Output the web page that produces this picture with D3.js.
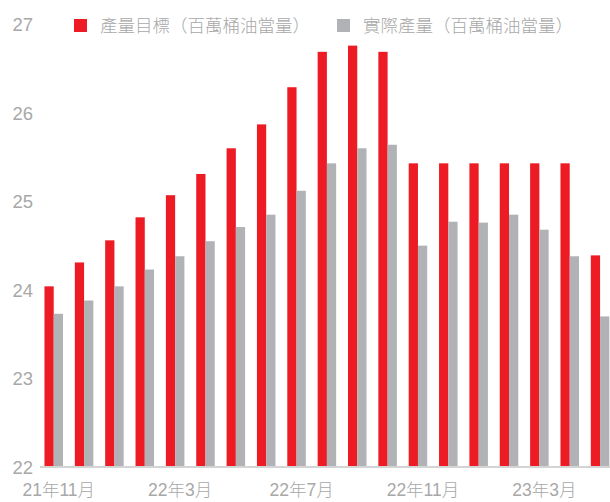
<!DOCTYPE html>
<html>
<head>
<meta charset="utf-8">
<script src="https://cdn.jsdelivr.net/npm/d3@7"></script>
<style>
  html, body { margin: 0; padding: 0; background: #fff; }
  svg { display: block; }
  text { font-family: "Liberation Sans", Arial, "Noto Sans CJK TC", sans-serif; }
</style>
</head>
<body>
<svg id="chart" width="610" height="502"></svg>
<script>
const months = ["21年11月","21年12月","22年1月","22年2月","22年3月","22年4月","22年5月","22年6月","22年7月","22年8月","22年9月","22年10月","22年11月","22年12月","23年1月","23年2月","23年3月","23年4月","23年5月"];
const target = [24.03, 24.30, 24.55, 24.81, 25.06, 25.30, 25.59, 25.86, 26.28, 26.68, 26.75, 26.68, 25.42, 25.42, 25.42, 25.42, 25.42, 25.42, 24.38];
const actual = [23.72, 23.87, 24.03, 24.22, 24.37, 24.54, 24.70, 24.84, 25.11, 25.42, 25.59, 25.63, 24.49, 24.76, 24.75, 24.84, 24.67, 24.37, 23.69];
const seriesNames = ["產量目標（百萬桶油當量）", "實際產量（百萬桶油當量）"];
const yTicks = [22, 23, 24, 25, 26, 27];
const xTickLabels = ["21年11月", "22年3月", "22年7月", "22年11月", "23年3月"];

const colors = ["#ED1C24", "#B1B2B6"];
const textColor = "#A8A8A8";

const svg = d3.select("#chart");

const y = d3.scaleLinear().domain([22, 27]).range([466, 23.5]);
const x = d3.scaleBand().domain(months).range([38.4, 615.4]).paddingInner(0.39).paddingOuter(0.2);
const xs = d3.scaleBand().domain([0, 1]).range([0, x.bandwidth()]);

const data = months.map((m, i) => ({ m, vals: [target[i], actual[i]] }));

const g = svg.append("g");
const groups = g.selectAll("g.grp").data(data).join("g")
  .attr("transform", d => `translate(${x(d.m)},0)`);
groups.selectAll("rect").data(d => d.vals.map((v, k) => ({ v, k }))).join("rect")
  .attr("x", d => xs(d.k))
  .attr("width", xs.bandwidth())
  .attr("y", d => y(d.v))
  .attr("height", d => y(22) - y(d.v))
  .attr("fill", d => colors[d.k]);

// baseline
svg.append("line")
  .attr("x1", 40).attr("x2", 610)
  .attr("y1", y(22) + 1).attr("y2", y(22) + 1)
  .attr("stroke", "#D4D4D4").attr("stroke-width", 2);

// y axis labels
const yAxis = d3.axisLeft(y).tickValues(yTicks).tickSize(0).tickPadding(0).tickFormat(d3.format("d"));
const yg = svg.append("g").attr("transform", "translate(33,1.5)").call(yAxis);
yg.select(".domain").remove();
yg.selectAll("text").attr("fill", textColor).style("font-size", "18.5px")
  .style("font-family", "'Liberation Sans', Arial, sans-serif");

// x axis labels
const xAxis = d3.axisBottom(x).tickValues(xTickLabels).tickSize(0).tickPadding(0);
const xg = svg.append("g").attr("transform", "translate(5,484)").call(xAxis);
xg.select(".domain").remove();
xg.selectAll("text").attr("fill", textColor).style("font-size", "17.5px")
  .style("font-family", "'Liberation Sans', Arial, 'Noto Sans CJK TC', sans-serif")
  .style("font-weight", 300);

// legend
const legendPos = [{ sq: 74, tx: 100 }, { sq: 337, tx: 363 }];
const lg = svg.append("g");
seriesNames.forEach((name, k) => {
  lg.append("rect").attr("x", legendPos[k].sq).attr("y", 19).attr("width", 13).attr("height", 13).attr("fill", colors[k]);
  lg.append("text").attr("x", legendPos[k].tx).attr("y", 32)
    .attr("fill", textColor).style("font-size", "17.5px")
    .style("font-family", "'Noto Sans CJK TC', sans-serif")
    .style("font-weight", 300)
    .text(name);
});
</script>
</body>
</html>
